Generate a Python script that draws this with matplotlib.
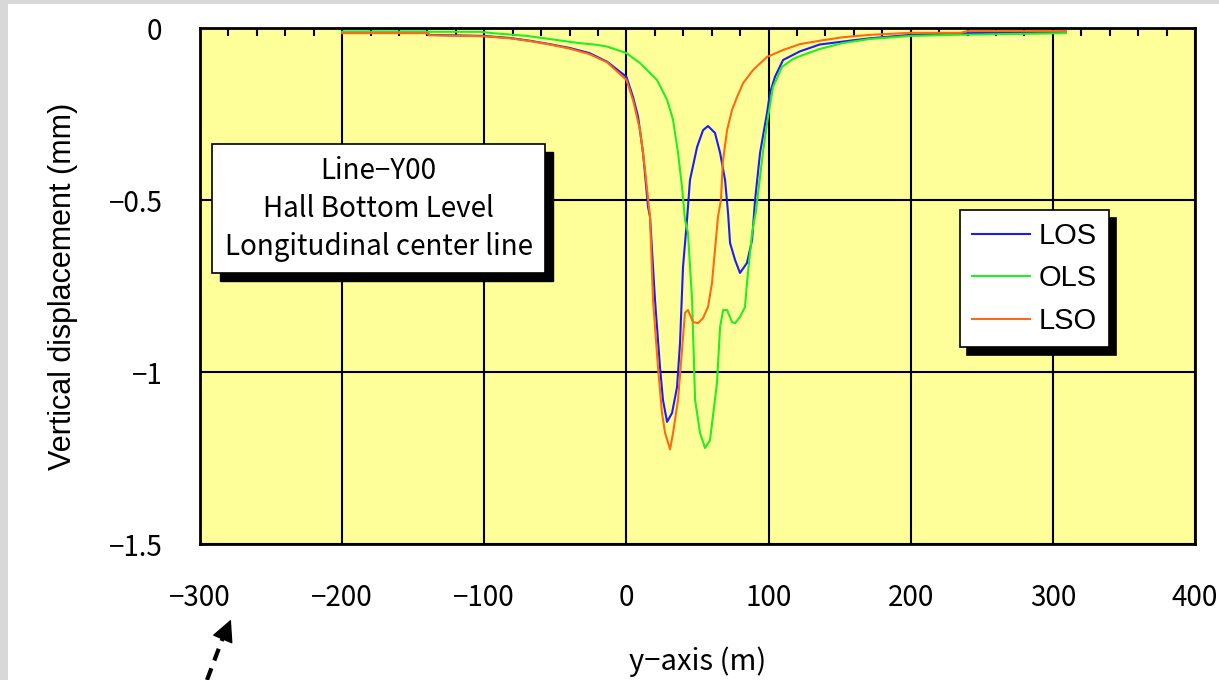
import matplotlib
matplotlib.use("Agg")
import matplotlib.pyplot as plt
from matplotlib.patches import Rectangle, FancyArrowPatch
from matplotlib.lines import Line2D
from matplotlib.ticker import MultipleLocator

# values
los_x = [-200, -140, -139, -101, -82, -68, -54, -40, -26, -13.6, 0, 4.6, 8.2, 11.7, 15.2, 16.6,
         20.1, 23.6, 25.7, 28.6, 32.1, 35.6, 37.7, 39.8, 42.6, 44.7, 49.7, 53.9, 57.4, 62.3,
         65.9, 69.4, 71.5, 72.9, 76.4, 79.9, 84.8, 88.4, 90.5, 94.0, 98.9, 101.0, 104.5, 110.2,
         122, 136, 157, 171, 200, 240, 309]
los_y = [-0.011, -0.011, -0.020, -0.023, -0.029, -0.037, -0.047, -0.058, -0.073, -0.098, -0.142,
         -0.200, -0.258, -0.363, -0.520, -0.549, -0.791, -0.985, -1.081, -1.145, -1.119, -1.044,
         -0.916, -0.695, -0.558, -0.442, -0.346, -0.297, -0.285, -0.305, -0.363, -0.442, -0.538,
         -0.625, -0.674, -0.712, -0.683, -0.616, -0.500, -0.363, -0.247, -0.189, -0.142, -0.093,
         -0.068, -0.048, -0.037, -0.030, -0.020, -0.015, -0.011]

ols_x = [-200, -103, -94, -70, -54, -35, -20.7, -13.6, 0, 9.6, 21.5, 28.6, 32.8, 36.3, 39.1,
         41.2, 43.3, 46.2, 48.3, 51.8, 55.3, 58.8, 63.7, 65.9, 68.0, 70.8, 74.3, 76.4, 79.9,
         83.4, 84.8, 88.4, 91.2, 96.0, 99.6, 103.1, 109.5, 117.2, 122, 136, 152, 171, 200, 230, 309]
ols_y = [-0.011, -0.011, -0.015, -0.023, -0.032, -0.043, -0.049, -0.054, -0.073, -0.102, -0.151,
         -0.209, -0.267, -0.363, -0.462, -0.558, -0.596, -0.791, -1.081, -1.177, -1.221, -1.198,
         -1.032, -0.869, -0.820, -0.820, -0.855, -0.858, -0.840, -0.811, -0.741, -0.596, -0.530,
         -0.363, -0.259, -0.172, -0.113, -0.090, -0.082, -0.061, -0.044, -0.032, -0.023, -0.020,
         -0.015]

lso_x = [-200, -140, -139, -101, -82, -68, -54, -40, -26, -13.6, 0, 4.6, 9.6, 13.1, 16.6, 18.7,
         22.2, 25.0, 27.2, 30.7, 32.8, 36.3, 39.1, 41.2, 43.3, 46.9, 50.4, 53.9, 57.4, 60.2,
         62.3, 64.4, 66.5, 67.8, 70.8, 74.3, 77.8, 82.1, 89.1, 98.9, 110.2, 122, 136, 152, 171,
         200, 235, 240, 309]
lso_y = [-0.015, -0.015, -0.021, -0.024, -0.030, -0.038, -0.048, -0.060, -0.076, -0.100, -0.151,
         -0.209, -0.297, -0.413, -0.549, -0.791, -0.985, -1.119, -1.177, -1.225, -1.177, -1.081,
         -0.936, -0.828, -0.820, -0.855, -0.858, -0.843, -0.811, -0.741, -0.645, -0.549, -0.500,
         -0.390, -0.297, -0.238, -0.201, -0.160, -0.122, -0.084, -0.064, -0.047, -0.037, -0.027,
         -0.020, -0.014, -0.014, -0.009, -0.009]

series_names = ["LOS", "OLS", "LSO"]
series_colors = ["#1a1aff", "#22ee22", "#ff6a10"]
box_lines = ["Line\u2212Y00", "Hall Bottom Level", "Longitudinal center line"]

jp = ["Noto Sans CJK JP", "DejaVu Sans"]

fig = plt.figure(figsize=(12.19, 6.8), dpi=100)
fig.patch.set_facecolor("white")
# textured grey margin of the original page
fig.patches.append(Rectangle((0, 0), 8 / 1219, 1, transform=fig.transFigure,
                             facecolor="#d8d8d8", edgecolor="none"))
fig.patches.append(Rectangle((0, 1 - 4 / 680), 1, 4 / 680, transform=fig.transFigure,
                             facecolor="#d8d8d8", edgecolor="none"))

ax = fig.add_axes([200 / 1219, 136 / 680, 995 / 1219, 516 / 680])
ax.set_facecolor("#ffff99")

for xs, ys, name, col in zip([los_x, ols_x, lso_x], [los_y, ols_y, lso_y], series_names, series_colors):
    ax.plot(xs, ys, color=col, lw=1.5, label=name, zorder=3)

ax.set_xlim(-300, 400)
ax.set_ylim(-1.5, 0)
ax.xaxis.set_minor_locator(MultipleLocator(20))
ax.grid(True, which="major", color="black", lw=1.5, zorder=1)
ax.set_axisbelow(True)

ax.set_xticks(list(range(-300, 401, 100)))
ax.set_xticklabels([str(v).replace("-", "\u2212") for v in range(-300, 401, 100)])
ax.set_yticks([0, -0.5, -1, -1.5])
ax.set_yticklabels(["0", "\u22120.5", "\u22121", "\u22121.5"])
ax.tick_params(axis="both", which="major", length=0, labelsize=20)
ax.tick_params(axis="x", which="major", pad=28)
ax.tick_params(axis="y", which="major", pad=27)
ax.tick_params(axis="x", which="minor", top=True, bottom=False, direction="in",
               length=6, width=1.5, color="black")
for lab in ax.get_xticklabels() + ax.get_yticklabels():
    lab.set_family(jp)

for sp in ax.spines.values():
    sp.set_linewidth(2)
    sp.set_color("black")

ax.set_xlabel("y\u2212axis (m)", fontsize=21, family=jp, labelpad=24)
ax.set_ylabel("Vertical displacement (mm)", fontsize=22, family="Liberation Sans", labelpad=22)

# annotation box with hard shadow
bx, by, bw, bh = 0.012, 0.525, 0.335, 0.25
ax.add_patch(Rectangle((bx + 0.008, by - 0.016), bw, bh, transform=ax.transAxes,
                       facecolor="black", edgecolor="black", zorder=5))
ax.add_patch(Rectangle((bx, by), bw, bh, transform=ax.transAxes,
                       facecolor="white", edgecolor="black", lw=1.2, zorder=6))
ax.text(bx + bw / 2, by + bh / 2, "\n".join(box_lines), transform=ax.transAxes,
        ha="center", va="center", fontsize=20, family=jp, linespacing=1.35, zorder=7)

leg = ax.legend(loc="upper left", bbox_to_anchor=(0.764, 0.647), frameon=True,
                fancybox=False, edgecolor="black", framealpha=1, borderaxespad=0,
                prop={"family": "Liberation Sans", "size": 21}, handlelength=2.0,
                handletextpad=0.3, labelspacing=0.5, borderpad=0.4,
                shadow={"color": "black", "alpha": 1, "ox": 5, "oy": -6})
leg.get_frame().set_linewidth(1.2)
leg.set_zorder(8)

# dashed arrow at lower left: dashed shaft plus solid head
fig.add_artist(Line2D([207 / 1219, 225 / 1219], [0, 48 / 680], transform=fig.transFigure,
                      color="black", lw=3, linestyle=(0, (3, 2))))
fig.add_artist(FancyArrowPatch((224 / 1219, 44 / 680), (232 / 1219, 63 / 680),
                               transform=fig.transFigure, arrowstyle="-|>,head_length=14,head_width=7",
                               mutation_scale=1, color="black", lw=1))

fig.savefig("out.png", dpi=100)
